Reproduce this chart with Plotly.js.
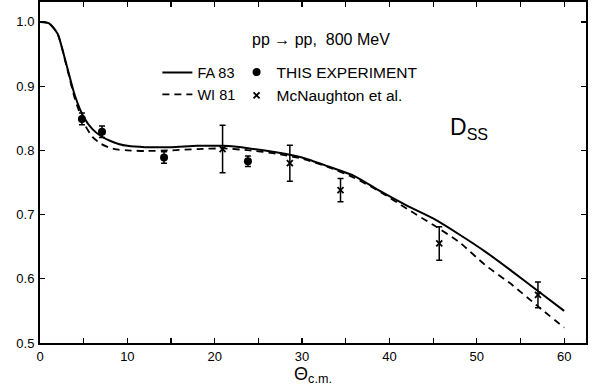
<!DOCTYPE html>
<html>
<head>
<meta charset="utf-8">
<script src="https://cdn.plot.ly/plotly-3.0.1.min.js"></script>
<style>html,body{margin:0;padding:0;background:#fff;}#chart{width:595px;height:387px;}</style>
</head>
<body>
<div id="chart"></div>
<script>
// FA 83 phase-shift prediction (solid)
const faAngle = [0, 1, 2, 3, 4, 5, 6, 7, 8, 9, 10, 12, 15, 18, 21, 24, 27, 30, 33, 36, 39, 42, 45, 48, 51, 54, 57, 60];
const faDss   = [1.0, 0.998, 0.982, 0.935, 0.885, 0.852, 0.833, 0.822, 0.815, 0.810, 0.807, 0.805, 0.805, 0.807, 0.807, 0.803, 0.797, 0.789, 0.775, 0.760, 0.736, 0.714, 0.694, 0.669, 0.642, 0.612, 0.581, 0.550];
// WI 81 phase-shift prediction (dashed)
const wiAngle = [0, 1, 2, 3, 4, 5, 6, 7, 8, 9, 10, 12, 15, 18, 21, 24, 27, 30, 33, 36, 39, 42, 45, 48, 51, 54, 57, 60];
const wiDss   = [1.0, 0.998, 0.982, 0.933, 0.880, 0.843, 0.821, 0.810, 0.804, 0.801, 0.800, 0.799, 0.800, 0.802, 0.803, 0.800, 0.795, 0.787, 0.774, 0.757, 0.735, 0.709, 0.684, 0.657, 0.621, 0.591, 0.557, 0.524];
// This experiment
const expAngle = [4.8, 7.1, 14.2, 23.8];
const expDss   = [0.849, 0.829, 0.789, 0.783];
const expErr   = [0.009, 0.009, 0.009, 0.008];
// McNaughton et al.
const mcnAngle = [20.9, 28.6, 34.4, 45.7, 57.0];
const mcnDss   = [0.802, 0.780, 0.738, 0.655, 0.575];
const mcnErr   = [0.037, 0.028, 0.018, 0.026, 0.020];

const FONT = 'Liberation Sans, Arial, sans-serif';

const traces = [
  {x: faAngle, y: faDss, mode: 'lines', name: 'FA 83', legend: 'legend',
   line: {color: '#000', width: 2, shape: 'spline', smoothing: 0.6}},
  {x: wiAngle, y: wiDss, mode: 'lines', name: 'WI 81', legend: 'legend',
   line: {color: '#000', width: 1.8, dash: '7px,5px', shape: 'spline', smoothing: 0.6}},
  {x: expAngle, y: expDss, mode: 'markers', name: 'THIS EXPERIMENT', legend: 'legend2',
   marker: {symbol: 'circle', size: 8, color: '#000'},
   error_y: {type: 'data', array: expErr, visible: true, color: '#000', thickness: 1.5, width: 3}},
  {x: mcnAngle, y: mcnDss, mode: 'markers', name: 'McNaughton et al.', legend: 'legend2',
   marker: {symbol: 'x-thin', size: 6, color: '#000', line: {color: '#000', width: 1.8}},
   error_y: {type: 'data', array: mcnErr, visible: true, color: '#000', thickness: 1.5, width: 3}}
];

const axisCommon = {
  showline: true, linecolor: '#000', linewidth: 2, mirror: 'ticks',
  ticks: 'inside', ticklen: 5, tickwidth: 1.2, tickcolor: '#000',
  showgrid: false, zeroline: false,
  tickfont: {family: FONT, size: 13, color: '#000'}
};

const layout = {
  width: 595, height: 387,
  margin: {l: 40, r: 9, t: 2, b: 44},
  paper_bgcolor: '#fff', plot_bgcolor: '#fff',
  showlegend: true,
  xaxis: Object.assign({}, axisCommon, {
    range: [0, 62.5], tickvals: [0, 10, 20, 30, 40, 50, 60],
    minor: {dtick: 5, ticks: 'inside', ticklen: 5, tickwidth: 1.2, tickcolor: '#000', showgrid: false},
    ticklabelstandoff: 0,
    title: {text: 'Θ<sub>c.m.</sub>', font: {family: FONT, size: 18, color: '#000'}, standoff: 0}
  }),
  yaxis: Object.assign({}, axisCommon, {
    range: [0.5, 1.031], tickvals: [0.5, 0.6, 0.7, 0.8, 0.9, 1.0],
    ticktext: ['0.5', '0.6', '0.7', '0.8', '0.9', '1.0'],
    ticklabelstandoff: 1
  }),
  legend: {x: 0.215, y: 0.84, xanchor: 'left', yanchor: 'top', bgcolor: 'rgba(0,0,0,0)',
    font: {family: FONT, size: 14.5, color: '#000'}, itemwidth: 30, tracegroupgap: 0},
  legend2: {x: 0.36, y: 0.843, xanchor: 'left', yanchor: 'top', bgcolor: 'rgba(0,0,0,0)',
    font: {family: FONT, size: 15.5, color: '#000'}, itemwidth: 30, tracegroupgap: 0},
  annotations: [
    {xref: 'paper', yref: 'paper', x: 0.515, y: 0.89, xanchor: 'center', yanchor: 'middle',
     text: 'pp → pp,  800 MeV', showarrow: false, font: {family: FONT, size: 16, color: '#000'}},
    {xref: 'paper', yref: 'paper', x: 0.785, y: 0.63, xanchor: 'center', yanchor: 'middle',
     text: 'D<sub>SS</sub>', showarrow: false, font: {family: FONT, size: 23, color: '#000'}}
  ]
};

Plotly.newPlot('chart', traces, layout, {displayModeBar: false, staticPlot: true});
</script>
</body>
</html>
